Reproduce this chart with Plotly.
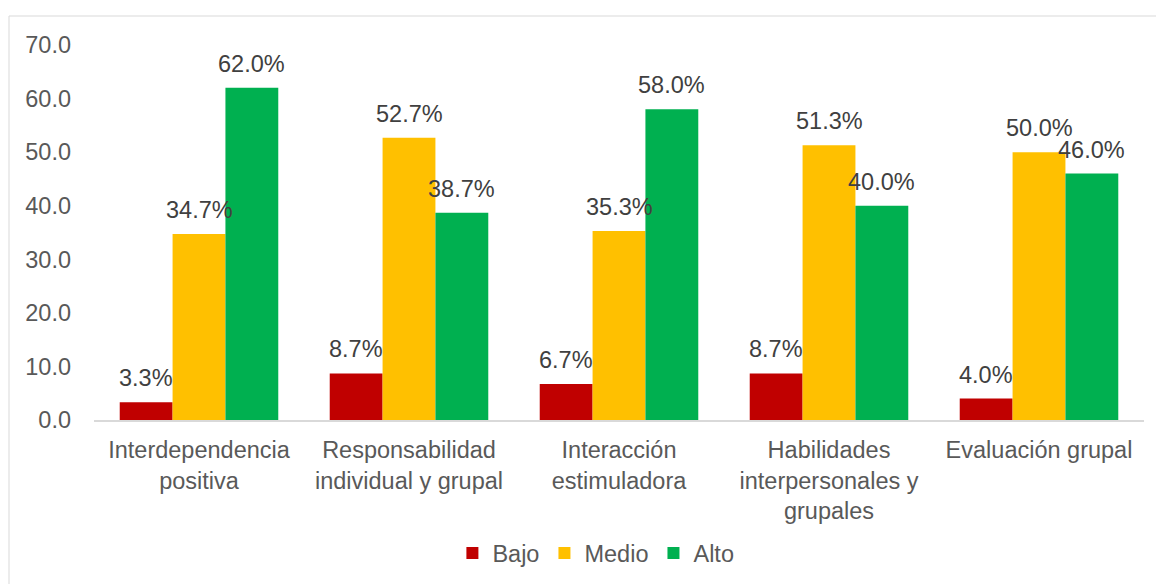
import plotly.graph_objects as go

categories = ["Interdependencia<br>positiva", "Responsabilidad<br>individual y grupal",
              "Interacción<br>estimuladora", "Habilidades<br>interpersonales y<br>grupales",
              "Evaluación grupal"]
series_names = ["Bajo", "Medio", "Alto"]
bajo = [3.3, 8.7, 6.7, 8.7, 4.0]
medio = [34.7, 52.7, 35.3, 51.3, 50.0]
alto = [62.0, 38.7, 58.0, 40.0, 46.0]
y_ticks = [0, 10, 20, 30, 40, 50, 60, 70]

colors = ["#C00000", "#FFC000", "#00B050"]
values = [bajo, medio, alto]

FONT = "Liberation Sans, Arial, sans-serif"
FS = 23.5

# page body adds an 8px offset, so the figure is drawn 8px smaller
W, H = 1156, 576
ML, MR, MT, MB = 86, 20, 37, 164
plot_w = W - ML - MR
plot_h = H - MT - MB

fig = go.Figure()
for name, vals, col in zip(series_names, values, colors):
    fig.add_trace(go.Bar(name=name, x=categories, y=vals, marker_color=col,
                         marker_line_width=0))

bargap = 0.245
cat_px = plot_w / len(categories)
bar_px = cat_px * (1 - bargap) / 3
offsets = [-bar_px, 0, bar_px]
annotations = []
for vals, off in zip(values, offsets):
    for c, v in zip(categories, vals):
        annotations.append(dict(x=c, y=v, xref="x", yref="y", text=f"{v:.1f}%",
                                showarrow=False, xshift=off, yshift=24,
                                yanchor="middle",
                                font=dict(family=FONT, size=FS, color="#404040")))

fig.update_layout(
    width=W, height=H,
    margin=dict(l=ML, r=MR, t=MT, b=MB, pad=0, autoexpand=False),
    barmode="group", bargap=bargap, bargroupgap=0,
    plot_bgcolor="white", paper_bgcolor="white",
    font=dict(family=FONT, size=FS, color="#595959"),
    annotations=annotations,
    showlegend=True,
    legend=dict(orientation="h", x=0.478, xanchor="center", y=-0.355, yanchor="middle",
                font=dict(family=FONT, size=FS, color="#595959"), itemwidth=30,
                traceorder="normal"),
    shapes=[dict(type="rect", xref="paper", yref="paper",
                 x0=(1 - ML) / plot_w, x1=(W + 20 - ML) / plot_w,
                 y0=-(H + 20 - MT - plot_h) / plot_h, y1=(plot_h + MT - 8) / plot_h,
                 line=dict(color="#D9D9D9", width=1), layer="below")],
)
fig.update_xaxes(showgrid=False, showline=True, linecolor="#D9D9D9", linewidth=1.5,
                 ticks="", tickfont=dict(size=FS, color="#595959"), ticklabelstandoff=8,
                 zeroline=False)
fig.update_yaxes(range=[0, 70], tickvals=y_ticks, tickformat=".1f", showgrid=False,
                 showline=False, zeroline=False, ticks="",
                 tickfont=dict(size=FS, color="#595959"), ticklabelstandoff=22)

fig.write_html("out.html")
